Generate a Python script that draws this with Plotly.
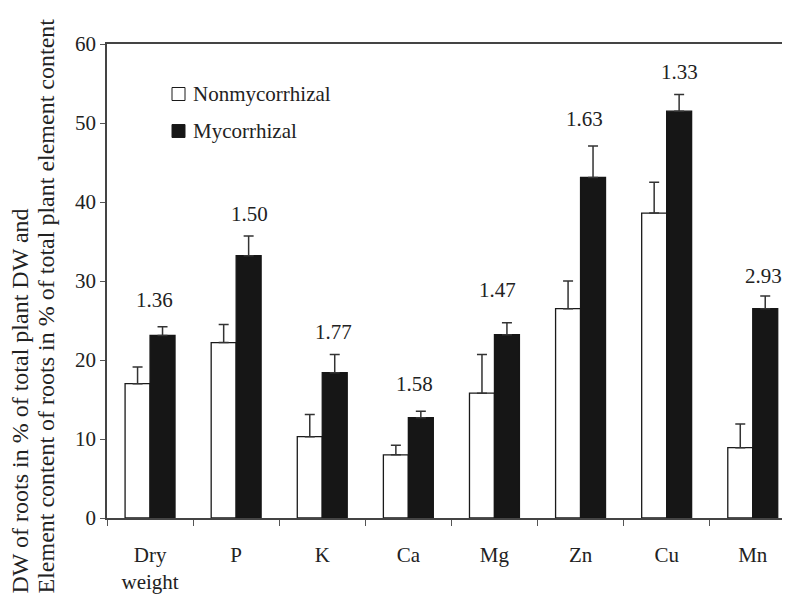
import plotly.graph_objects as go

categories = ["Dry<br>weight", "P", "K", "Ca", "Mg", "Zn", "Cu", "Mn"]
nonmyc = [17.0, 22.2, 10.3, 8.0, 15.8, 26.5, 38.6, 8.9]
nonmyc_err = [2.1, 2.3, 2.8, 1.2, 4.9, 3.5, 3.9, 3.0]
myc = [23.1, 33.2, 18.4, 12.7, 23.2, 43.1, 51.5, 26.5]
myc_err = [1.1, 2.5, 2.3, 0.8, 1.5, 4.0, 2.1, 1.6]
ratio_labels = ["1.36", "1.50", "1.77", "1.58", "1.47", "1.63", "1.33", "2.93"]
ratio_y = [27.6, 38.5, 23.6, 17.0, 28.9, 50.5, 56.5, 30.6]
ratio_dx = [0.05, 0.15, 0.13, 0.07, 0.03, 0.05, 0.15, 0.13]
y_ticks = [0, 10, 20, 30, 40, 50, 60]
y_title_lines = ["DW of roots in % of total plant DW and",
                 "Element content of roots in % of total plant element content"]

FONT = "Liberation Serif, Times New Roman, DejaVu Serif, serif"
OFF = 8  # default page body margin
W, H = 790 - OFF, 601 - OFF
ML, MR, MT, MB = 107 - OFF, 0, 44 - OFF, 601 - 518
PW, PH = W - ML - MR, H - MT - MB

def px(x):  # page pixel x -> paper
    return (x - OFF - ML) / PW

def py(y):  # page pixel y -> paper
    return (H + OFF - MB - y) / PH

fig = go.Figure()
fig.add_trace(go.Bar(
    x=categories, y=nonmyc, name="Nonmycorrhizal",
    marker=dict(color="white", line=dict(color="#1a1a1a", width=1.3)),
    error_y=dict(type="data", symmetric=False, array=nonmyc_err,
                 arrayminus=[0] * len(nonmyc_err), color="#333333",
                 thickness=1.5, width=5),
    showlegend=False,
))
fig.add_trace(go.Bar(
    x=categories, y=myc, name="Mycorrhizal",
    marker=dict(color="#161616", line=dict(color="#161616", width=1.3)),
    error_y=dict(type="data", symmetric=False, array=myc_err,
                 arrayminus=[0] * len(myc_err), color="#333333",
                 thickness=1.5, width=5),
    showlegend=False,
))

annotations = []
for i, (lab, yv, dx) in enumerate(zip(ratio_labels, ratio_y, ratio_dx)):
    annotations.append(dict(x=i + dx, y=yv, xref="x", yref="y", text=lab,
                            showarrow=False, font=dict(family=FONT, size=21, color="#222")))

# y-axis title: two rotated lines, both starting at the bottom
for line, xc in zip(y_title_lines, [19, 45]):
    annotations.append(dict(
        x=px(xc), y=py(596), xref="paper", yref="paper", textangle=-90,
        text=line, showarrow=False, xanchor="center", yanchor="bottom",
        font=dict(family=FONT, size=24, color="#222")))

# manual legend
shapes = []
legend_items = [("Nonmycorrhizal", "white", 94), ("Mycorrhizal", "#161616", 131)]
for name, col, yc in legend_items:
    shapes.append(dict(type="rect", xref="paper", yref="paper",
                       x0=px(172), x1=px(185), y0=py(yc + 6.5), y1=py(yc - 6.5),
                       fillcolor=col, line=dict(color="#1a1a1a", width=1)))
    annotations.append(dict(x=px(191), y=py(yc), xref="paper", yref="paper",
                            text=name, showarrow=False, xanchor="left", yanchor="middle",
                            font=dict(family=FONT, size=21, color="#222")))

fig.update_layout(
    width=W, height=H,
    margin=dict(l=ML, r=MR, t=MT, b=MB, autoexpand=False),
    paper_bgcolor="white", plot_bgcolor="white",
    barmode="group", bargap=0.42, bargroupgap=0,
    font=dict(family=FONT, size=21, color="#222"),
    annotations=annotations, shapes=shapes,
    xaxis=dict(type="category", range=[-0.5, -0.5 + PW / 86.1], automargin=False,
               showline=True, linecolor="#444", linewidth=1.5, mirror=True,
               ticks="outside", tickson="boundaries", ticklen=6, tickcolor="#555",
               tickwidth=1, ticklabelstandoff=17, showgrid=False, zeroline=False,
               tickfont=dict(family=FONT, size=21, color="#222")),
    yaxis=dict(range=[0, 60], tickvals=y_ticks, showline=True, linecolor="#444",
               linewidth=1.5, ticks="outside", ticklen=5, tickcolor="#555",
               automargin=False, showgrid=False, zeroline=False,
               tickfont=dict(family=FONT, size=21, color="#222")),
)

fig.write_html("out.html")
